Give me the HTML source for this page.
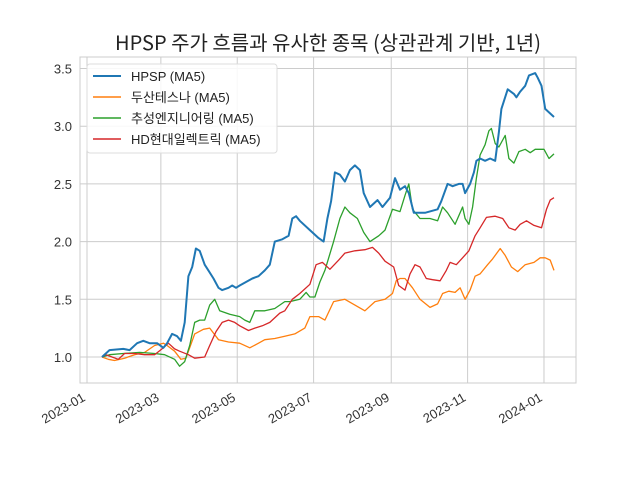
<!DOCTYPE html>
<html><head><meta charset="utf-8"><style>
body{margin:0;background:#fff;}
svg{font-family:"Liberation Sans","Noto Sans CJK KR",sans-serif;}
</style></head><body>
<svg id="chart" width="640" height="480" xmlns="http://www.w3.org/2000/svg">
<rect width="640" height="480" fill="#fff"/>
<text x="328" y="50" text-anchor="middle" font-size="20" fill="#222" font-family="'Noto Sans CJK KR',sans-serif">HPSP 주가 흐름과 유사한 종목 (상관관계 기반, 1년)</text>
<g id="grid"></g>
<rect x="80" y="57" width="496" height="326" fill="none" stroke="#ccc" stroke-width="1"/>
<g id="series"></g>
<g id="legend"></g>
</svg>
<script>
const yTicks=[1.0,1.5,2.0,2.5,3.0,3.5];
const xTickLabels=["2023-01","2023-03","2023-05","2023-07","2023-09","2023-11","2024-01"];
const xTickDays=[0,59,120,181,243,304,365];
const seriesNames=["HPSP (MA5)","두산테스나 (MA5)","추성엔지니어링 (MA5)","HD현대일렉트릭 (MA5)"];
const seriesColors=["#1f77b4","#ff7f0e","#2ca02c","#d62728"];
const hpspDays=[12,18,29,34,40,45,50,56,61,64,68,72,75,78,81,84,87,90,94,97,101,105,108,113,116,119,122,127,132,137,142,146,150,156,161,164,167,170,178,185,189,192,195,198,202,206,210,214,218,221,226,232,236,242,246,250,254,257,261,270,280,283,288,292,297,300,302,306,309,311,314,318,322,326,329,331,336,341,343,346,350,353,358,360,363,366,373];
const hpspVals=[1.0,1.06,1.07,1.06,1.12,1.14,1.12,1.12,1.08,1.12,1.2,1.18,1.14,1.3,1.7,1.78,1.94,1.92,1.8,1.75,1.68,1.6,1.58,1.6,1.62,1.6,1.62,1.65,1.68,1.7,1.75,1.8,2.0,2.02,2.05,2.2,2.22,2.18,2.1,2.03,2.0,2.2,2.35,2.6,2.58,2.52,2.62,2.66,2.62,2.42,2.3,2.36,2.3,2.38,2.55,2.45,2.48,2.42,2.25,2.25,2.28,2.35,2.5,2.48,2.5,2.5,2.42,2.5,2.6,2.7,2.72,2.7,2.72,2.7,2.95,3.15,3.32,3.28,3.25,3.3,3.35,3.44,3.46,3.42,3.35,3.15,3.08];
const tesnaDays=[12,17,22,30,38,46,54,61,64,70,75,79,82,86,93,98,105,113,122,130,137,142,150,158,166,174,178,185,190,197,206,214,222,230,238,244,247,250,254,260,266,274,280,284,289,294,298,302,306,310,314,320,324,330,334,339,344,350,357,362,366,370,373];
const tesnaVals=[1.0,0.98,0.97,0.99,1.02,1.04,1.1,1.12,1.1,1.05,0.98,0.99,1.08,1.2,1.24,1.25,1.15,1.13,1.12,1.08,1.12,1.15,1.16,1.18,1.2,1.25,1.35,1.35,1.32,1.48,1.5,1.45,1.4,1.48,1.5,1.55,1.66,1.68,1.68,1.6,1.5,1.43,1.46,1.55,1.57,1.56,1.6,1.5,1.58,1.7,1.72,1.8,1.85,1.94,1.88,1.78,1.74,1.8,1.82,1.86,1.86,1.84,1.75];
const engDays=[12,18,29,42,54,62,70,74,78,82,86,90,94,98,102,106,114,122,126,130,134,142,150,158,162,170,175,178,182,186,190,197,202,206,210,216,221,226,233,238,244,250,254,257,260,266,274,280,284,288,294,300,302,305,308,311,314,318,321,323,326,329,334,337,341,345,350,354,358,365,369,373];
const engVals=[1.0,1.02,1.03,1.04,1.03,1.02,0.98,0.92,0.96,1.1,1.3,1.32,1.32,1.45,1.5,1.4,1.37,1.35,1.32,1.3,1.4,1.4,1.42,1.48,1.48,1.5,1.56,1.52,1.52,1.65,1.75,2.0,2.2,2.3,2.25,2.2,2.08,2.0,2.05,2.1,2.28,2.26,2.4,2.5,2.28,2.2,2.2,2.18,2.3,2.25,2.15,2.3,2.2,2.15,2.3,2.55,2.75,2.84,2.96,2.98,2.85,2.82,2.92,2.72,2.68,2.78,2.8,2.77,2.8,2.8,2.72,2.76];
const hdDays=[12,15,20,25,30,38,46,54,61,65,70,74,81,86,94,98,103,108,113,118,122,129,134,140,146,154,158,164,170,178,183,188,194,201,206,214,222,228,233,238,245,249,254,258,262,266,271,276,282,287,290,295,300,305,310,314,319,326,332,337,342,346,351,357,363,367,370,373];
const hdVals=[1.0,1.02,1.0,0.98,1.03,1.03,1.02,1.02,1.08,1.12,1.07,1.05,1.02,0.99,1.0,1.1,1.22,1.3,1.32,1.3,1.27,1.23,1.25,1.27,1.3,1.38,1.4,1.5,1.55,1.63,1.8,1.82,1.76,1.84,1.9,1.92,1.93,1.95,1.9,1.83,1.78,1.62,1.58,1.72,1.8,1.78,1.68,1.67,1.66,1.75,1.82,1.8,1.86,1.92,2.05,2.12,2.21,2.22,2.2,2.12,2.1,2.15,2.18,2.14,2.12,2.28,2.36,2.38];

const NS="http://www.w3.org/2000/svg";
function xS(d){return 87+d*1.252;}
function yS(v){return 357-(v-1)*115.4;}
const svg=document.getElementById('chart');
const grid=document.getElementById('grid');
yTicks.forEach(t=>{
  const l=document.createElementNS(NS,'line');
  l.setAttribute('x1',80);l.setAttribute('x2',576);l.setAttribute('y1',yS(t));l.setAttribute('y2',yS(t));
  l.setAttribute('stroke','#ccc');
  
  
  grid.appendChild(l);
  const tx=document.createElementNS(NS,'text');
  tx.setAttribute('x',72);tx.setAttribute('y',yS(t)+5);tx.setAttribute('text-anchor','end');
  tx.setAttribute('font-size','13');tx.setAttribute('fill','#333');
  tx.textContent=t.toFixed(1);
  
  
  grid.appendChild(tx);
});
xTickDays.forEach((d,i)=>{
  const x=xS(d);
  const l=document.createElementNS(NS,'line');
  l.setAttribute('x1',x);l.setAttribute('x2',x);l.setAttribute('y1',57);l.setAttribute('y2',383);
  l.setAttribute('stroke','#ccc');
  
  
  grid.appendChild(l);
  const tx=document.createElementNS(NS,'text');
  tx.setAttribute('transform','translate('+(x-6)+',391) rotate(-30)');
  tx.setAttribute('text-anchor','end');tx.setAttribute('font-size','13');tx.setAttribute('fill','#333');
  tx.setAttribute('dy','0.8em');
  tx.textContent=xTickLabels[i];
  
  
  grid.appendChild(tx);
});
const sg=document.getElementById('series');
const all=[[hpspDays,hpspVals,2],[tesnaDays,tesnaVals,1.3],[engDays,engVals,1.3],[hdDays,hdVals,1.3]];
[1,2,3,0].forEach(i=>{
  const [ds,vs,w]=all[i];
  const p=document.createElementNS(NS,'polyline');
  p.setAttribute('points',ds.map((d,j)=>xS(d).toFixed(1)+','+yS(vs[j]).toFixed(1)).join(' '));
  p.setAttribute('fill','none');p.setAttribute('stroke',seriesColors[i]);p.setAttribute('stroke-width',w);
  p.setAttribute('stroke-linejoin','round');
  
  
  sg.appendChild(p);
});
const lg=document.getElementById('legend');
const box=document.createElementNS(NS,'rect');
box.setAttribute('x',87);box.setAttribute('y',64);box.setAttribute('width',190);box.setAttribute('height',89);
box.setAttribute('rx',3);box.setAttribute('fill','#fff');box.setAttribute('fill-opacity','0.85');box.setAttribute('stroke','#ddd');


lg.appendChild(box);
seriesNames.forEach((n,i)=>{
  const y=76+i*21;
  const l=document.createElementNS(NS,'line');
  l.setAttribute('x1',93);l.setAttribute('x2',121);l.setAttribute('y1',y);l.setAttribute('y2',y);
  l.setAttribute('stroke',seriesColors[i]);l.setAttribute('stroke-width',i==0?2:1.5);
  
  
  lg.appendChild(l);
  const t=document.createElementNS(NS,'text');
  t.setAttribute('x',131);t.setAttribute('y',y+5);t.setAttribute('font-size','13');t.setAttribute('fill','#222');
  t.textContent=n;
  
  
  lg.appendChild(t);
});
</script>
</body></html>
